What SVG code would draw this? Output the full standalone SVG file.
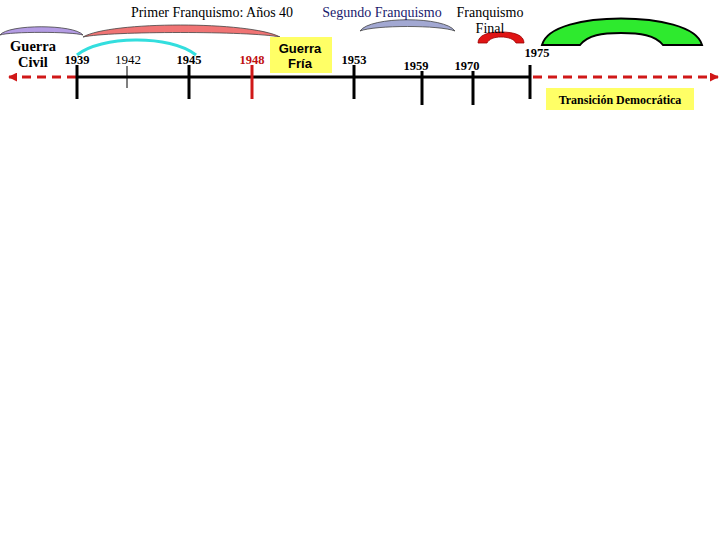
<svg xmlns="http://www.w3.org/2000/svg" width="720" height="540" viewBox="0 0 720 540">
<style>
.ser{font-family:"Liberation Serif","Times New Roman",serif;font-size:14px;fill:#000;text-anchor:middle}
.navy{fill:#1a1a6e}
.yr{font-family:"Liberation Serif","Times New Roman",serif;font-size:12.5px;font-weight:bold;fill:#000;text-anchor:middle}
.yrn{font-family:"Liberation Serif","Times New Roman",serif;font-size:13px;fill:#000;text-anchor:middle}
.red{fill:#c01010}
.gc{font-family:"Liberation Serif","Times New Roman",serif;font-size:14.5px;font-weight:bold;fill:#000;text-anchor:middle}
.sans{font-family:"Liberation Sans",Arial,sans-serif;font-size:13px;font-weight:bold;fill:#000;text-anchor:middle}
.td{font-family:"Liberation Serif","Times New Roman",serif;font-size:12px;font-weight:bold;fill:#000;text-anchor:middle}
.tick{stroke:#000;stroke-width:3}
.dash{stroke:#d01818;stroke-width:3;stroke-dasharray:9,6;fill:none}
.arc{stroke:#444;stroke-width:0.8}
.box{fill:#ffff66}
</style>
<defs>
<marker id="ah" viewBox="0 0 10 10" refX="9" refY="5" markerWidth="3" markerHeight="3" orient="auto-start-reverse">
<path d="M0,0 L10,5 L0,10 Z" fill="#d01818"/>
</marker>
</defs>
<rect width="720" height="540" fill="#fff"/>

<g id="arcs">
<path class="arc" d="M0,35 C8,24 74,24 83,35 C72,31.5 10,31.5 0,35 Z" fill="#b49ce4"/>
<path class="arc" d="M83,37 C110,21 250,21 280,37 C250,31 110,31 83,37 Z" fill="#f07474"/>
<path d="M77,55 C100,36 170,34 196,55" fill="none" stroke="#33dede" stroke-width="3"/>
<path class="arc" d="M360,31 C370,16 445,16 455,31 C440,25 375,25 360,31 Z" fill="#a2a8d2"/>
<path d="M478,43 C478,35 488,32 501,32 C514,32 524,35 524,43 L516,43 C514,39 508,37 501,37 C494,37 489,39 487,43 Z" fill="#e01414" stroke="#900" stroke-width="0.8"/>
<path d="M542,45 C547,26 585,18.5 621,18.5 C657,18.5 697,26 702,45 L663,45 C655,35 640,33 621,33 C602,33 588,35 580,45 Z" fill="#2eea2e" stroke="#000" stroke-width="2"/>
</g>

<g id="connectors">
<line x1="77" y1="77" x2="530" y2="77" stroke="#000" stroke-width="3"/>
<line class="dash" x1="76" y1="77" x2="9" y2="77" marker-end="url(#ah)"/>
<line class="dash" x1="533" y1="77" x2="718" y2="77" marker-end="url(#ah)"/>
<line class="tick" x1="77" y1="65" x2="77" y2="99"/>
<line x1="127" y1="66" x2="127" y2="88" stroke="#000" stroke-width="1"/>
<line class="tick" x1="189" y1="65" x2="189" y2="99"/>
<line x1="252" y1="65" x2="252" y2="99" stroke="#d01818" stroke-width="3"/>
<line class="tick" x1="354" y1="65" x2="354" y2="99"/>
<line class="tick" x1="422" y1="71" x2="422" y2="105"/>
<line class="tick" x1="473" y1="71" x2="473" y2="105"/>
<line class="tick" x1="530" y1="65" x2="530" y2="99"/>
</g>

<g id="titles">
<text class="ser" x="212" y="17">Primer Franquismo: Años 40</text>
<text class="ser navy" x="382" y="17">Segundo Franquismo</text>
<text class="ser" x="490" y="17">Franquismo</text>
<text class="ser" x="490" y="33">Final</text>
</g>

<g id="guerra-civil">
<text class="gc" x="33" y="51">Guerra</text>
<text class="gc" x="33" y="67">Civil</text>
</g>

<g id="years">
<text class="yr" x="77" y="64">1939</text>
<text class="yrn" x="128" y="64">1942</text>
<text class="yr" x="189" y="64">1945</text>
<text class="yr red" x="252" y="64">1948</text>
<text class="yr" x="354" y="64">1953</text>
<text class="yr" x="416" y="70">1959</text>
<text class="yr" x="467" y="70">1970</text>
<text class="yr" x="537" y="57">1975</text>
</g>

<g id="guerra-fria">
<rect class="box" x="270" y="37" width="62" height="36"/>
<text class="sans" x="300" y="53">Guerra</text>
<text class="sans" x="300" y="68">Fría</text>
</g>

<g id="transicion">
<rect class="box" x="546" y="88" width="148" height="22"/>
<text class="td" x="620" y="104">Transición Democrática</text>
</g>
</svg>
